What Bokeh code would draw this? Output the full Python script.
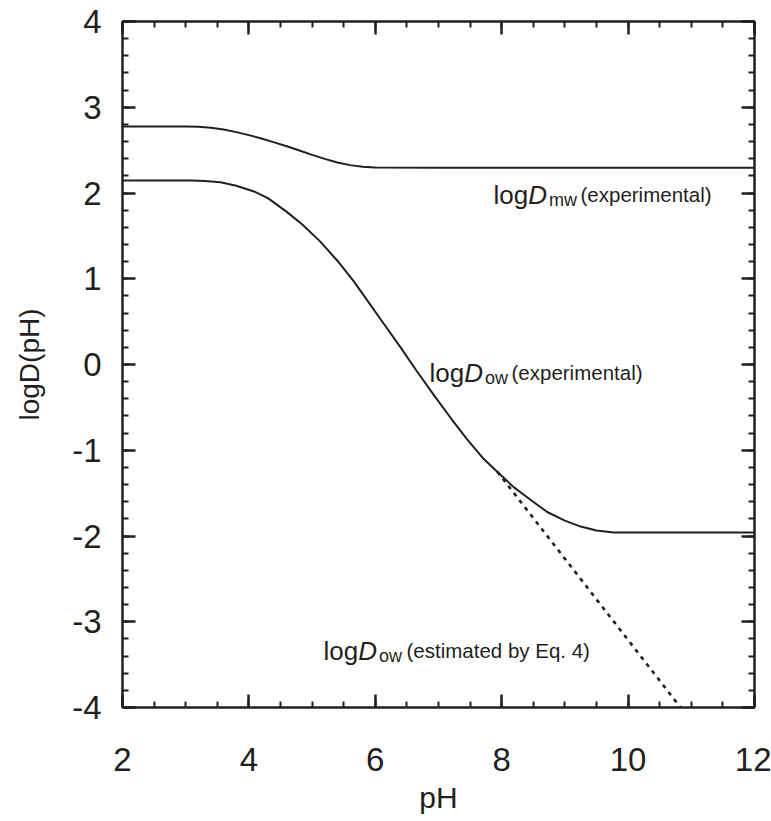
from bokeh.plotting import figure
from bokeh.models import LinearAxis, SingleIntervalTicker, Label, Range1d
from bokeh.embed import file_html
from bokeh.resources import INLINE

# ---- data ----
ph_mw = [2.0, 2.5, 3.0, 3.2, 3.4, 3.6, 3.8, 4.0, 4.2, 4.4, 4.6, 4.8, 5.0, 5.2, 5.4, 5.6, 5.8, 6.0,
         7.0, 8.0, 9.0, 10.0, 11.0, 12.0]
logd_mw = [2.775, 2.775, 2.775, 2.772, 2.76, 2.74, 2.71, 2.675, 2.635, 2.59, 2.545, 2.495, 2.445, 2.398,
           2.355, 2.325, 2.306, 2.296, 2.295, 2.295, 2.295, 2.295, 2.295, 2.295]

ph_ow = [2.0, 2.5, 3.1, 3.3, 3.55, 3.8, 4.08, 4.3, 4.6, 4.85, 5.13, 5.4, 5.66, 5.87, 6.1, 6.4, 6.65,
         6.93, 7.2, 7.45, 7.7, 7.98, 8.19, 8.46, 8.72, 9.0, 9.25, 9.5, 9.77, 10.5, 11.0, 12.0]
logd_ow = [2.145, 2.145, 2.145, 2.14, 2.126, 2.085, 2.018, 1.94, 1.78, 1.63, 1.433, 1.21, 0.97, 0.75,
           0.51, 0.20, -0.07, -0.36, -0.63, -0.87, -1.09, -1.285, -1.43, -1.58, -1.72, -1.82, -1.89,
           -1.935, -1.96, -1.96, -1.96, -1.96]

ph_est = [7.93, 10.83]
logd_est = [-1.25, -4.0]

x_start, x_end, x_step = 2, 12, 2
y_start, y_end, y_step = -4, 4, 1
x_tick_labels = {v: str(v) for v in range(x_start, x_end + 1, x_step)}
y_tick_labels = {v: str(v) for v in range(y_start, y_end + 1, y_step)}
x_title = "pH"
y_title = "logD(pH)"

C = "#231f20"
FONT = "Liberation Sans"

W, H = 771, 821
L, R, T, B = 122, 17, 21, 114
fw, fh = W - L - R, H - T - B


def px2x(px):
    return x_start + (px - L) / fw * (x_end - x_start)


def py2y(py):
    return y_end - (py - T) / fh * (y_end - y_start)


p = figure(width=W, height=H, x_range=Range1d(x_start, x_end), y_range=Range1d(y_start, y_end),
           output_backend="svg", toolbar_location=None,
           min_border_left=L, min_border_right=R, min_border_top=T, min_border_bottom=B,
           x_axis_location=None, y_axis_location=None)
p.xgrid.visible = False
p.ygrid.visible = False
p.outline_line_color = None
p.background_fill_color = "white"
p.border_fill_color = "white"


def make_axis(ticker, labels):
    ax = LinearAxis(ticker=ticker)
    ax.axis_line_color = C
    ax.axis_line_width = 2.5
    ax.major_tick_line_color = C
    ax.minor_tick_line_color = C
    ax.major_tick_line_width = 2.5
    ax.minor_tick_line_width = 2
    ax.major_tick_in = 13
    ax.major_tick_out = 0
    ax.minor_tick_in = 6
    ax.minor_tick_out = 0
    if labels is not None:
        ax.major_label_text_font = FONT
        ax.major_label_text_font_size = "33px"
        ax.major_label_text_color = C
        ax.major_label_overrides = labels
        ax.axis_label_text_font = FONT
        ax.axis_label_text_font_style = "normal"
        ax.axis_label_text_color = C
    else:
        ax.major_label_text_font_size = "1px"
        ax.major_label_text_color = None
        ax.major_label_standoff = 0
    return ax


xb = make_axis(SingleIntervalTicker(interval=x_step, num_minor_ticks=4), x_tick_labels)
xb.major_label_standoff = 40
xb.axis_label = x_title
xb.axis_label_text_font_size = "30px"
xb.axis_label_standoff = 7

yl = make_axis(SingleIntervalTicker(interval=y_step, num_minor_ticks=5), y_tick_labels)
yl.major_label_standoff = 21
yl.axis_label = y_title
yl.axis_label_text_font_size = "28px"
yl.axis_label_standoff = 24

xt = make_axis(SingleIntervalTicker(interval=x_step, num_minor_ticks=4), None)
yr = make_axis(SingleIntervalTicker(interval=y_step, num_minor_ticks=5), None)
p.add_layout(xb, "below")
p.add_layout(yl, "left")
p.add_layout(xt, "above")
p.add_layout(yr, "right")

p.line(ph_mw, logd_mw, line_color=C, line_width=2)
p.line(ph_ow, logd_ow, line_color=C, line_width=2)
p.line(ph_est, logd_est, line_color=C, line_width=2.6, line_dash="4 5")


def lab(px, py, text, size, style="normal"):
    p.add_layout(Label(x=px2x(px), y=py2y(py), text=text, text_font=FONT, text_font_size=size,
                       text_font_style=style, text_color=C, text_align="left",
                       text_baseline="alphabetic"))


# curve annotations: log | D | subscript | note
for x0, base, sub, note, note_x in [(493, 194, "mw", "(experimental)", 580),
                                    (429, 372, "ow", "(experimental)", 511),
                                    (323, 650, "ow", "(estimated by Eq. 4)", 406)]:
    lab(x0, base, "log", "26px")
    lab(x0 + 34.7, base, "D", "26px", "italic")
    lab(x0 + 55.5, base + 5, sub, "18px")
    lab(note_x, base, note, "20.5px")

open("out.html", "w").write(file_html(p, INLINE))
